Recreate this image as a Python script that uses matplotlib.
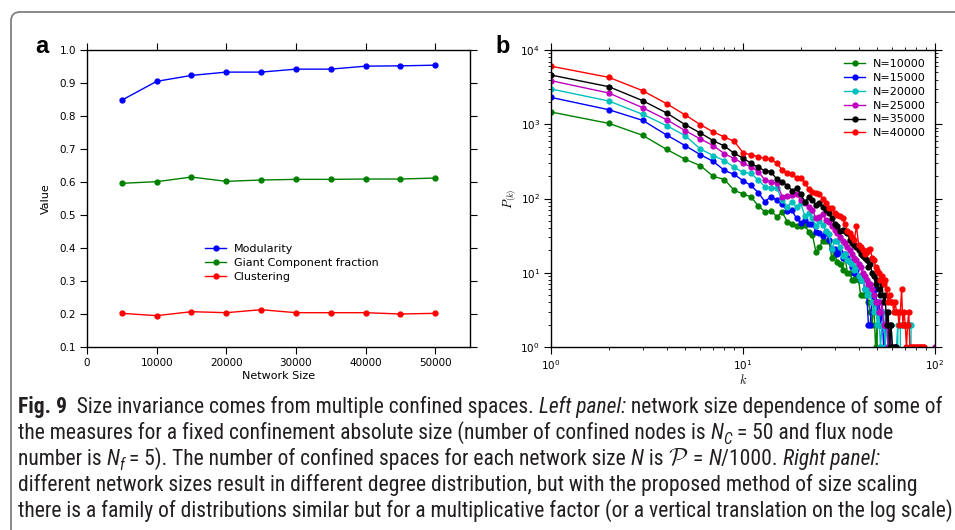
import numpy as np
import matplotlib
matplotlib.use('Agg')
import matplotlib.pyplot as plt
from matplotlib import font_manager
from matplotlib.patches import FancyBboxPatch
from matplotlib.transforms import IdentityTransform
from matplotlib.ticker import FormatStrFormatter

# ---------------- data ----------------
sizes = [5000, 10000, 15000, 20000, 25000, 30000, 35000, 40000, 45000, 50000]
modularity = [0.848, 0.905, 0.923, 0.933, 0.933, 0.942, 0.942, 0.951, 0.952, 0.954]
giant = [0.596, 0.601, 0.615, 0.602, 0.606, 0.608, 0.608, 0.609, 0.609, 0.612]
clustering = [0.202, 0.195, 0.207, 0.204, 0.213, 0.204, 0.204, 0.204, 0.200, 0.202]
xticks_a = [0, 10000, 20000, 30000, 40000, 50000]
yticks_a = [0.1, 0.2, 0.3, 0.4, 0.5, 0.6, 0.7, 0.8, 0.9, 1.0]

pk_10000 = [1462, 1028, 710, 459, 337, 277, 199, 180, 129, 115,
            105, 80, 66, 68, 57, 65, 49, 46, 42, 42,
            44, 35, 32, 19, 22, 27, 27, 27, 16, 18,
            14, 13, 11, 16, 10, 10, 8, 8, 9, 8,
            5, 5, 5, 5, 4, 3, 2, 4, 1, 2,
            0, 1, 0]
pk_15000 = [2300, 1570, 1129, 717, 515, 389, 316, 239, 211, 174,
            150, 120, 91, 106, 95, 84, 67, 69, 54, 47,
            51, 45, 46, 35, 34, 31, 35, 28, 21, 21,
            18, 19, 16, 18, 16, 14, 12, 10, 11, 9,
            8, 9, 6, 6, 2, 2, 5, 4, 6, 3,
            4, 2, 3, 1, 2, 0, 1]
pk_20000 = [2985, 2056, 1362, 957, 702, 464, 378, 324, 263, 225,
            218, 178, 144, 140, 137, 95, 78, 91, 76, 86,
            58, 63, 54, 42, 50, 44, 37, 33, 21, 27,
            27, 22, 17, 18, 15, 14, 13, 11, 12, 9,
            8, 8, 6, 5, 6, 5, 4, 3, 4, 2,
            3, 1, 2, 3, 1, 2, 1, 0, 2, 1,
            1, 0, 1, 2, 0, 2, 2, 2, 2, 2,
            2, 2, 2, 2, 2, 0]
pk_25000 = [3863, 2635, 1672, 1152, 821, 633, 515, 402, 344, 298,
            268, 230, 178, 168, 160, 106, 108, 110, 116, 95,
            88, 78, 70, 54, 57, 62, 52, 48, 42, 38,
            34, 30, 27, 25, 22, 20, 18, 16, 15, 13,
            12, 10, 9, 8, 7, 7, 6, 5, 4, 4,
            3, 3, 4, 2, 2, 3, 1, 2, 1, 1,
            0, 1, 0, 0, 0, 0, 0, 0, 0, 0,
            0, 0, 0, 0, 0, 0, 0, 0, 0, 0,
            0, 0, 0, 0, 0, 0, 0, 0, 0, 0,
            0, 0, 0, 0, 0, 0, 0, 0, 0, 1]
pk_35000 = [4600, 3206, 2080, 1419, 987, 762, 601, 509, 406, 351,
            298, 263, 237, 230, 181, 168, 149, 128, 137, 116,
            89, 106, 95, 82, 86, 78, 70, 63, 55, 46,
            42, 37, 38, 36, 34, 28, 25, 24, 22, 20,
            18, 17, 16, 15, 12, 13, 10, 9, 7, 8,
            6, 5, 7, 4, 5, 2, 3, 1, 2, 1,
            0, 1, 1, 0]
pk_40000 = [6050, 4285, 2834, 1892, 1334, 987, 787, 674, 589, 414,
            385, 366, 347, 340, 298, 242, 223, 214, 187, 191,
            163, 133, 124, 120, 114, 100, 86, 74, 75, 63,
            60, 58, 54, 45, 37, 34, 30, 28, 42, 24,
            22, 20, 18, 19, 20, 21, 16, 15, 12, 11,
            10, 8, 9, 7, 8, 6, 4, 5, 4, 4,
            3, 4, 3, 3, 2, 3, 6, 2, 3, 2,
            1, 2, 3, 1, 1, 0, 1, 1, 0, 1,
            1, 0, 1, 1, 1, 0, 1, 1, 0]
series_b = [("N=10000", pk_10000, "#008000"),
            ("N=15000", pk_15000, "#0000ff"),
            ("N=20000", pk_20000, "#00bfbf"),
            ("N=25000", pk_25000, "#bf00bf"),
            ("N=35000", pk_35000, "#000000"),
            ("N=40000", pk_40000, "#ff0000")]

# ---------------- figure ----------------
W, H = 955, 530
plt.rcParams['font.family'] = ['DejaVu Sans']
plt.rcParams['mathtext.fontset'] = 'cm'
fig = plt.figure(figsize=(W / 100, H / 100), dpi=100)
fig.patch.set_facecolor('white')

def px_axes(x0, y0, x1, y1):
    return fig.add_axes([x0 / W, (H - y1) / H, (x1 - x0) / W, (y1 - y0) / H])

TICK_FS = 7.5
LAB_FS = 8

# panel a
ax = px_axes(87, 50, 470, 347)
ax.plot(sizes, modularity, '-o', color='#0000ff', lw=1.0, ms=3.5, label='Modularity')
ax.plot(sizes, giant, '-o', color='#008000', lw=1.0, ms=3.5, label='Giant Component fraction')
ax.plot(sizes, clustering, '-o', color='#ff0000', lw=1.0, ms=3.5, label='Clustering')
ax.set_xlim(0, 55000)
ax.set_ylim(0.1, 1.0)
ax.set_xticks(xticks_a)
ax.set_yticks(yticks_a)
ax.yaxis.set_major_formatter(FormatStrFormatter('%.1f'))
ax.tick_params(direction='out', length=5, width=0.8, labelsize=TICK_FS,
               top=True, right=True, pad=3)
ax.set_xlabel('Network Size', fontsize=LAB_FS, labelpad=2)
ax.set_ylabel('Value', fontsize=LAB_FS, labelpad=6)
ax.legend(loc='center left', bbox_to_anchor=(0.308, 0.283), frameon=False,
          fontsize=LAB_FS, numpoints=1, borderpad=0, borderaxespad=0,
          handlelength=1.9, handletextpad=0.7, labelspacing=0.35)

# panel b
bx = px_axes(551, 50, 935, 347)
for lab, vals, col in series_b:
    kk = np.arange(1, len(vals) + 1)
    bx.plot(kk, vals, '-o', color=col, mec=col, lw=1.0, ms=3.5, label=lab)
bx.set_xscale('log')
bx.set_yscale('log')
bx.set_xlim(1, 100)
bx.set_ylim(1, 1e4)
bx.tick_params(which='major', direction='out', length=5, width=0.8,
               labelsize=TICK_FS, top=True, right=True, pad=3)
bx.tick_params(which='minor', direction='out', length=2.5, width=0.6,
               top=True, right=True)
bx.set_xlabel(r'$k$', fontsize=9, labelpad=1)
bx.set_ylabel(r'$P_{(k)}$', fontsize=9, labelpad=2)
bx.legend(loc='upper right', frameon=False, fontsize=LAB_FS, numpoints=1,
          borderpad=0.2, borderaxespad=0.6, handlelength=1.9,
          handletextpad=0.7, labelspacing=0.35)

for a in (ax, bx):
    for s in a.spines.values():
        s.set_linewidth(1.0)

# panel letters
fig.text(35 / W, 1 - 53 / H, 'a', fontsize=17, weight='bold', family='Liberation Sans',
         va='baseline', ha='left')
fig.text(495 / W, 1 - 53 / H, 'b', fontsize=17, weight='bold', family='Liberation Sans',
         va='baseline', ha='left')

# border
border = FancyBboxPatch((11, -30), 1000, H - 12 + 30,
                        boxstyle='round,pad=0,rounding_size=9',
                        transform=IdentityTransform(), fill=False,
                        ec='#808080', lw=1.3)
fig.add_artist(border)

# ---------------- caption ----------------
names = {f.name for f in font_manager.fontManager.ttflist}
cap_font = 'Liberation Sans'
for cand in ['Liberation Sans Narrow', 'Roboto Condensed', 'Open Sans Condensed',
             'Noto Sans Display', 'Liberation Sans']:
    if cand in names:
        cap_font = cand
        break
cap_color = '#231f20'

caption_lines = [
    [("Fig. 9", 'b'), ("  Size invariance comes from multiple confined spaces. ", 'r'),
     ("Left panel:", 'i'), (" network size dependence of some of", 'r')],
    [("the measures for a fixed confinement absolute size (number of confined nodes is ", 'r'),
     ("N", 'i'), ("C", 'sub'), (" = 50 and flux node", 'r')],
    [("number is ", 'r'), ("N", 'i'), ("f", 'sub'),
     (" = 5). The number of confined spaces for each network size ", 'r'),
     ("N", 'i'), (" is ", 'r'), (r"$\mathcal{P}$", 'math'), (" = ", 'r'), ("N", 'i'),
     ("/1000. ", 'r'), ("Right panel:", 'i')],
    [("different network sizes result in different degree distribution, but with the proposed method of size scaling", 'r')],
    [("there is a family of distributions similar but for a multiplicative factor (or a vertical translation on the log scale)", 'r')],
]

fig.canvas.draw()
renderer = fig.canvas.get_renderer()

def props(kind, size):
    p = dict(family=cap_font, fontsize=size, color=cap_color, va='baseline', ha='left')
    if kind in ('i', 'sub'):
        p['style'] = 'italic'
    if kind == 'b':
        p['weight'] = 'bold'
    if kind == 'sub':
        p['fontsize'] = size * 0.72
    if kind == 'math':
        p = dict(fontsize=size * 1.15, color=cap_color, va='baseline', ha='left')
    return p

def width(s, kind, size):
    p = props(kind, size)
    if kind == 'math':
        t = fig.text(0, 0, s, **p)
        w = t.get_window_extent(renderer).width
        t.remove()
        return w
    t = fig.text(0, 0, '|' + s + '|', **p)
    w1 = t.get_window_extent(renderer).width
    t.remove()
    t = fig.text(0, 0, '||', **p)
    w0 = t.get_window_extent(renderer).width
    t.remove()
    return w1 - w0

base = 10.0
nat = sum(width(s, k, base) for s, k in caption_lines[0])
cap_size = base * (940 - 18) / nat

y0 = 413
for i, line in enumerate(caption_lines):
    x = 18.0
    yb = y0 + 26 * i
    for s, kind in line:
        p = props(kind, cap_size)
        dy = 0
        if kind == 'sub':
            dy = cap_size * 100 / 72 * 0.22
        fig.text(x / W, 1 - (yb + dy) / H, s, **p)
        x += width(s, kind, cap_size)

fig.savefig('out.png', dpi=100, facecolor='white')
